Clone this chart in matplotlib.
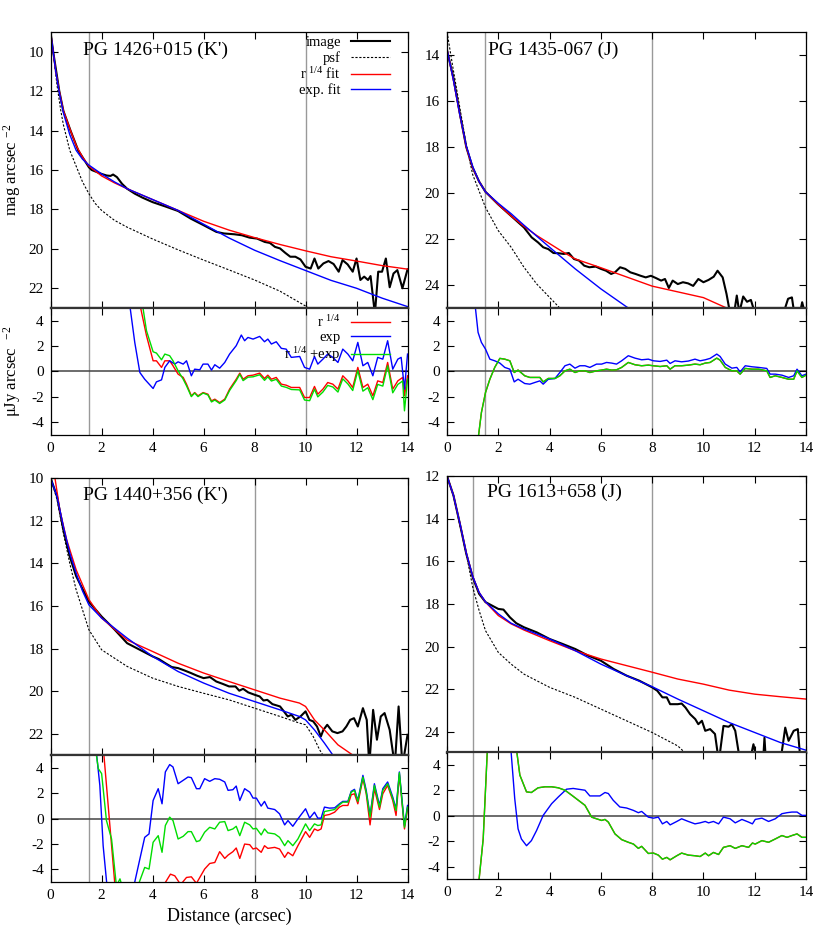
import matplotlib
matplotlib.use('Agg')
import matplotlib.pyplot as plt

plt.rcParams['font.family'] = ['Liberation Serif', 'DejaVu Serif']
plt.rcParams['mathtext.fontset'] = 'custom'
plt.rcParams['mathtext.rm'] = 'Liberation Serif'
plt.rcParams['mathtext.it'] = 'Liberation Serif:italic'
plt.rcParams['mathtext.default'] = 'rm'
plt.rcParams['axes.unicode_minus'] = False

# ---------------- PG 1426+015 (K') ----------------
tl_img_r = [0, 0.1, 0.34, 0.5, 0.78, 1.08, 1.5, 1.61, 2.0, 2.2, 2.35, 2.45, 2.6, 2.8, 3.0, 3.3, 3.6, 4.0, 4.5, 5.0,
            5.5, 6.0, 6.5, 6.8, 7.2, 7.5, 7.8, 8.1, 8.4, 8.6, 8.8, 9.0, 9.2, 9.4, 9.6, 9.8, 10.0, 10.2, 10.35, 10.5,
            10.7, 10.9, 11.1, 11.3, 11.45, 11.65, 11.85, 12.0, 12.15, 12.3, 12.45, 12.55, 12.72, 12.85, 13.0, 13.15,
            13.3, 13.45, 13.6, 13.8, 14.0]
tl_img_m = [9.05, 10.0, 12.0, 13.0, 14.0, 15.0, 15.86, 16.0, 16.2, 16.28, 16.3, 16.23, 16.36, 16.7, 16.95, 17.2, 17.4,
            17.63, 17.85, 18.08, 18.47, 18.8, 19.14, 19.22, 19.26, 19.31, 19.43, 19.48, 19.65, 19.7, 19.9, 19.98,
            20.2, 20.4, 20.4, 20.54, 20.91, 21.0, 20.49, 21.0, 20.74, 20.62, 20.77, 21.16, 20.57, 20.79, 21.16, 20.49,
            21.58, 21.41, 21.58, 21.38, 23.3, 21.16, 21.16, 20.49, 21.95, 21.25, 21.08, 22.0, 21.04]
tl_psf_r = [0, 0.1, 0.25, 0.4, 0.5, 0.75, 1.0, 1.25, 1.5, 1.75, 2.0, 2.5, 3.0, 4.0, 5.0, 6.0, 7.0, 8.0, 9.0, 10.0, 10.2]
tl_psf_m = [9.0, 10.0, 11.7, 13.0, 13.7, 15.0, 15.8, 16.6, 17.2, 17.7, 18.05, 18.55, 18.9, 19.5, 20.05, 20.57,
            21.07, 21.58, 22.15, 22.9, 23.1]
tl_r14_r = [0, 0.1, 0.2, 0.34, 0.5, 0.78, 1.0, 1.25, 1.5, 2.0, 2.5, 3.0, 4.0, 5.0, 6.0, 7.0, 8.0, 9.0, 10.0, 11.0,
            12.0, 13.0, 14.0]
tl_r14_m = [9.0, 10.0, 11.0, 12.0, 13.0, 14.0, 14.75, 15.35, 15.8, 16.3, 16.65, 16.95, 17.5, 18.05, 18.6, 19.05,
            19.43, 19.78, 20.1, 20.4, 20.62, 20.85, 21.03]
tl_exp_r = [0, 0.1, 0.2, 0.33, 0.5, 0.75, 1.0, 1.25, 1.5, 2.0, 2.5, 3.0, 4.0, 5.0, 6.0, 7.0, 8.0, 9.0, 10.0, 11.0,
            12.0, 13.0, 14.0]
tl_exp_m = [9.0, 10.0, 11.0, 12.0, 13.1, 14.2, 15.0, 15.45, 15.75, 16.2, 16.6, 16.95, 17.5, 18.05, 18.75, 19.45,
            20.07, 20.6, 21.1, 21.6, 22.0, 22.5, 22.93]

tl_res_r = [3.76, 4.02, 4.15, 4.35, 4.48, 4.67, 4.8, 5.0, 5.2, 5.33, 5.52, 5.65, 5.78, 5.98, 6.17, 6.31, 6.44, 6.63,
            6.83, 7.02, 7.28, 7.42, 7.55, 7.74, 7.94, 8.2, 8.39, 8.52, 8.66, 8.85, 9.05, 9.24, 9.44, 9.77, 9.96,
            10.16, 10.35, 10.48, 10.68, 10.87, 11.07, 11.27, 11.46, 11.66, 11.85, 12.05, 12.25, 12.44, 12.64, 12.83,
            13.03, 13.22, 13.42, 13.62, 13.81, 13.88, 14.0]
tl_res_r14 = [2.82, 0.84, 0.84, 0.32, 0.84, 0.84, 0.45, -0.21, -0.47, -1.0, -1.92, -1.66, -1.92, -1.66, -1.79,
              -2.32, -2.18, -2.45, -2.18, -1.39, -0.61, -0.13, -0.61, -0.34, -0.29, -0.13, -0.55, -0.29, -0.61,
              -0.47, -1.0, -1.08, -1.26, -1.26, -2.05, -2.05, -1.18, -1.79, -1.39, -0.87, -1.0, -1.39, -0.34, -0.74,
              -1.26, 0.32, -1.26, -1.0, -1.92, -0.74, -0.87, 0.71, -1.39, -0.74, -0.47, -1.92, -0.34]
tl_res_sum = [3.21, 1.55, 1.45, 0.92, 1.37, 1.24, 0.84, 0.05, -0.61, -1.13, -1.98, -1.7, -1.98, -1.7, -1.85, -2.4,
              -2.25, -2.52, -2.25, -1.5, -0.72, -0.22, -0.72, -0.45, -0.42, -0.26, -0.7, -0.42, -0.75, -0.62, -1.15,
              -1.25, -1.42, -1.45, -2.25, -2.3, -1.4, -2.0, -1.62, -1.1, -1.22, -1.62, -0.58, -0.98, -1.5, 0.08,
              -1.55, -1.28, -2.22, -1.02, -1.15, 0.45, -1.68, -1.02, -0.75, -3.1, -0.6]
tl_resexp_r = [3.1, 3.3, 3.5, 3.69, 4.02, 4.15, 4.35, 4.48, 4.67, 4.87, 5.0, 5.2, 5.33, 5.52, 5.65, 5.85, 5.98, 6.17,
               6.31, 6.44, 6.63, 6.83, 7.02, 7.28, 7.48, 7.61, 7.74, 7.94, 8.2, 8.39, 8.52, 8.66, 8.85, 9.05, 9.24,
               9.44, 9.77, 9.96, 10.16, 10.35, 10.48, 10.68, 10.87, 11.07, 11.27, 11.46, 11.66, 11.85, 12.05, 12.25,
               12.44, 12.64, 12.83, 13.03, 13.22, 13.42, 13.62, 13.75, 13.88, 14.0]
tl_res_exp = [5.3, 2.29, -0.08, -0.61, -1.34, -0.82, -0.66, 0.32, 0.84, 0.58, 0.76, 0.58, 0.84, -0.34, 0.18, 0.13,
              0.58, 0.58, 0.11, 0.53, 0.26, 0.71, 1.37, 2.03, 2.87, 2.42, 2.68, 2.55, 2.76, 2.34, 2.55, 2.16, 2.34,
              1.82, 1.76, 1.11, 1.18, 0.32, 0.18, 1.18, 0.58, 0.97, 1.37, 1.11, 0.71, 1.76, 1.37, 0.84, 2.29, 0.45,
              0.71, -0.34, 1.11, 0.97, 2.42, 0.18, 0.97, 1.11, -1.39, 1.37]

# ---------------- PG 1435-067 (J) ----------------
tr_img_r = [0, 0.25, 0.5, 0.75, 1.0, 1.25, 1.5, 2.0, 2.5, 3.0, 3.3, 3.55, 3.75, 3.95, 4.15, 4.35, 4.55, 4.75, 4.95,
            5.15, 5.35, 5.55, 5.8, 6.0, 6.2, 6.4, 6.55, 6.75, 6.95, 7.15, 7.35, 7.55, 7.75, 7.95, 8.15, 8.35, 8.5,
            8.65, 8.8, 9.0, 9.2, 9.4, 9.6, 9.8, 10.0, 10.2, 10.4, 10.55, 10.75, 10.9, 11.05, 11.2, 11.3, 11.4, 11.55,
            11.7, 11.85, 12.0, 12.3, 12.7, 13.1, 13.3, 13.45, 13.55, 13.75, 13.85, 13.95]
tr_img_m = [13.8, 15.0, 16.55, 18.0, 18.9, 19.5, 19.95, 20.5, 21.0, 21.5, 21.93, 22.15, 22.36, 22.44, 22.61, 22.62,
            22.65, 22.61, 22.87, 22.94, 23.16, 23.23, 23.2, 23.3, 23.38, 23.52, 23.45, 23.23, 23.3, 23.45, 23.52,
            23.6, 23.67, 23.6, 23.7, 23.81, 23.74, 24.13, 23.81, 23.96, 23.88, 23.93, 24.04, 23.74, 23.88, 23.78,
            23.64, 23.38, 23.67, 24.39, 25.3, 25.2, 24.46, 25.2, 24.5, 24.73, 24.65, 25.2, 25.3, 25.3, 25.3, 24.6,
            24.54, 25.3, 25.3, 24.75, 25.2]
tr_psf_r = [0, 0.23, 0.5, 0.75, 1.0, 1.5, 2.0, 2.5, 3.0, 3.5, 4.0, 4.43, 4.6]
tr_psf_m = [13.0, 14.55, 16.3, 17.9, 19.2, 20.63, 21.64, 22.36, 23.23, 23.96, 24.54, 25.04, 25.3]
tr_r14_r = [0, 0.25, 0.5, 0.75, 1.0, 1.25, 1.5, 2.0, 2.5, 3.0, 3.5, 4.0, 4.5, 5.0, 6.0, 7.0, 8.0, 9.0, 10.0, 11.0,
            11.2]
tr_r14_m = [13.75, 15.1, 16.6, 18.0, 18.9, 19.5, 19.95, 20.5, 21.0, 21.45, 21.85, 22.2, 22.55, 22.87, 23.25, 23.65,
            24.05, 24.3, 24.55, 25.05, 25.15]
tr_exp_r = [0, 0.25, 0.5, 0.75, 1.0, 1.25, 1.5, 2.0, 2.5, 3.0, 3.5, 4.0, 4.5, 5.0, 6.0, 7.0, 7.5]
tr_exp_m = [13.75, 15.1, 16.6, 17.95, 18.85, 19.5, 19.95, 20.45, 20.9, 21.4, 21.88, 22.36, 22.83, 23.3, 24.17,
            24.95, 25.3]

tr_res_r = [1.86, 2.06, 2.25, 2.45, 2.62, 2.77, 3.03, 3.23, 3.42, 3.62, 3.75, 3.95, 4.21, 4.4, 4.6, 4.79, 4.99,
            5.18, 5.38, 5.57, 5.83, 6.03, 6.22, 6.42, 6.61, 6.81, 7.07, 7.33, 7.59, 7.85, 8.05, 8.31, 8.57, 8.7,
            8.89, 9.15, 9.41, 9.67, 9.87, 10.07, 10.26, 10.52, 10.65, 10.85, 11.11, 11.3, 11.43, 11.63, 11.89,
            12.15, 12.47, 12.6, 12.8, 13.06, 13.32, 13.52, 13.65, 13.84, 14.0]
tr_res_exp = [0.84, 0.66, 0.32, 0.18, -0.82, -0.61, -0.95, -1.0, -0.87, -0.74, -1.0, -0.61, -0.55, -0.08, 0.45,
              0.58, 0.26, 0.45, 0.45, 0.32, 0.58, 0.58, 0.71, 0.66, 0.58, 0.84, 1.24, 1.05, 0.92, 0.97, 0.84, 0.79,
              0.89, 0.63, 0.84, 0.76, 0.82, 0.97, 0.84, 0.92, 1.03, 1.37, 1.18, 0.58, 0.26, 0.32, -0.03, 0.45,
              0.37, 0.32, 0.24, -0.21, -0.21, -0.29, -0.47, -0.34, 0.18, -0.34, -0.21]
tr_res_sum = [0.32, 1.03, 0.97, 0.84, -0.08, 0.11, -0.34, -0.47, -0.47, -0.47, -0.82, -0.55, -0.55, -0.34, 0.05,
              0.18, -0.08, 0.05, 0.05, -0.08, 0.05, 0.11, 0.18, 0.11, 0.13, 0.32, 0.71, 0.53, 0.45, 0.5, 0.45,
              0.39, 0.45, 0.18, 0.45, 0.45, 0.5, 0.58, 0.53, 0.66, 0.71, 1.05, 0.89, 0.32, 0.05, 0.05, -0.21, 0.24,
              0.18, 0.18, 0.05, -0.47, -0.34, -0.47, -0.61, -0.61, 0.05, -0.47, -0.29]
# inner part of the residuals, where they leave the panel
tr_in_r = [1.08, 1.21, 1.34, 1.5, 1.67]
tr_in_exp = [5.5, 3.08, 2.29, 1.76, 0.97]
tr_in_sum_r = [1.2, 1.34, 1.5, 1.67]
tr_in_sum = [-5.5, -3.24, -1.66, -0.61]

# ---------------- PG 1440+356 (K') ----------------
bl_img_r = [0, 0.25, 0.5, 0.75, 1.0, 1.5, 2.0, 2.5, 3.0, 3.5, 4.0, 4.25, 4.5, 4.75, 5.0, 5.25, 5.5, 5.75, 6.0, 6.25,
            6.5, 6.75, 7.0, 7.25, 7.4, 7.55, 7.75, 8.0, 8.2, 8.35, 8.5, 8.7, 9.0, 9.15, 9.3, 9.45, 9.6, 9.8, 10.0,
            10.15, 10.3, 10.45, 10.6, 10.7, 10.85, 11.05, 11.25, 11.45, 11.6, 11.75, 11.9, 12.05, 12.25, 12.4, 12.5,
            12.65, 12.8, 12.95, 13.1, 13.3, 13.5, 13.65, 13.8, 14.0]
bl_img_m = [10.0, 10.86, 12.43, 13.68, 14.6, 15.8, 16.5, 17.1, 17.75, 18.06, 18.37, 18.5, 18.69, 18.87, 18.92, 19.03,
            19.15, 19.28, 19.39, 19.34, 19.55, 19.66, 19.78, 19.78, 19.98, 19.89, 20.06, 20.17, 20.25, 20.44, 20.41,
            20.61, 20.72, 20.95, 21.19, 21.11, 21.35, 21.19, 20.95, 21.35, 21.42, 21.66, 22.13, 21.82, 21.58, 21.89,
            21.97, 21.89, 21.66, 21.35, 21.27, 21.66, 20.8, 21.35, 23.5, 20.88, 22.28, 21.19, 21.03, 21.82, 23.5,
            20.72, 23.5, 22.05]
bl_psf_r = [0, 0.25, 0.5, 0.75, 1.0, 1.5, 2.0, 3.0, 4.0, 5.0, 6.0, 7.0, 8.0, 9.0, 9.76, 10.0, 10.3, 10.55, 10.68,
            10.8]
bl_psf_m = [10.0, 11.0, 12.58, 14.0, 15.24, 17.12, 18.06, 18.84, 19.39, 19.78, 20.1, 20.41, 20.8, 21.19, 21.5,
            21.58, 22.13, 22.75, 23.0, 23.3]
bl_r14_r = [0.05, 0.17, 0.36, 0.63, 1.0, 1.5, 2.0, 3.0, 4.0, 5.0, 6.0, 7.0, 8.0, 9.0, 9.76, 10.0, 10.35, 10.8,
            11.27, 11.85, 12.2]
bl_r14_m = [9.0, 10.0, 11.5, 12.9, 14.3, 15.7, 16.57, 17.6, 18.14, 18.69, 19.15, 19.55, 19.94, 20.33, 20.56, 20.72,
            21.35, 21.9, 22.52, 23.0, 23.3]
bl_exp_r = [0, 0.25, 0.5, 0.75, 1.0, 1.25, 1.5, 2.0, 3.0, 4.0, 5.0, 6.0, 7.0, 8.0, 9.0, 9.76, 10.0, 10.35, 10.74,
            11.07, 11.3]
bl_exp_m = [10.0, 10.86, 12.27, 13.52, 14.46, 15.3, 15.95, 16.57, 17.51, 18.37, 19.08, 19.62, 20.1, 20.49, 20.88,
            21.19, 21.35, 21.82, 22.44, 23.0, 23.4]

bl_res_r = [6.04, 6.24, 6.44, 6.63, 6.83, 6.96, 7.15, 7.28, 7.42, 7.61, 7.81, 7.94, 8.07, 8.26, 8.39, 8.52, 8.79,
            8.98, 9.18, 9.31, 9.5, 9.7, 10.0, 10.16, 10.35, 10.48, 10.61, 10.74, 10.94, 11.14, 11.33, 11.46, 11.66,
            11.79, 11.92, 12.05, 12.25, 12.38, 12.53, 12.7, 12.9, 13.03, 13.22, 13.42, 13.55, 13.68, 13.88, 14.0]
bl_res_exp = [3.14, 2.93, 3.14, 3.09, 2.88, 2.22, 2.27, 2.56, 1.42, 2.35, 2.08, 1.61, 1.61, 0.98, 1.35, 0.82, 0.71,
              0.37, -0.5, -0.16, -0.61, -0.03, 0.77, 0.03, 0.5, 0.03, 0.03, 0.9, 0.82, 0.84, 1.16, 1.35, 1.35, 2.14,
              2.3, 1.42, 3.4, 2.22, 0.24, 2.74, 1.03, 2.35, 2.88, 1.69, 0.77, 3.67, -0.55, 1.03]
bl_res_sum = [-1.08, -0.69, -0.82, -0.29, -0.24, -0.95, -0.82, -0.61, -1.35, -0.29, -0.5, -0.82, -0.77, -1.29,
              -0.82, -1.13, -1.21, -1.48, -2.14, -1.74, -2.14, -1.61, -0.42, -0.95, -0.42, -0.55, -0.5, 0.55, 0.63,
              0.71, 1.08, 1.29, 1.29, 2.08, 2.22, 1.35, 3.27, 2.08, 0.11, 2.61, 0.9, 2.22, 2.74, 1.56, 0.63, 3.61,
              -0.69, 0.9]
bl_res_r14 = [-3.98, -3.54, -3.46, -2.61, -3.14, -2.88, -2.61, -2.32, -3.14, -2.01, -2.06, -2.4, -2.32, -2.66,
              -2.14, -2.35, -2.27, -2.4, -3.06, -2.66, -2.93, -2.14, -1.03, -1.48, -0.82, -0.95, -0.82, 0.24, 0.32,
              0.5, 0.9, 1.03, 1.03, 1.87, 1.95, 1.16, 3.14, 1.95, -0.5, 2.35, 0.71, 1.95, 2.61, 1.42, 0.24, 3.46,
              -0.82, 0.77]
bl_in_exp_r = [1.78, 1.93, 2.06, 2.22, 2.6, 3.2, 3.3, 3.5, 3.69, 3.86, 4.02, 4.22, 4.37, 4.5, 4.67, 4.8, 5.0, 5.2,
               5.39, 5.52, 5.72, 5.85, 6.04]
bl_in_exp = [5.5, 2.61, -2.14, -5.5, -6.5, -6.0, -5.0, -3.19, -1.48, -1.21, 1.42, 2.35, 1.16, 3.67, 4.25, 4.06,
             2.74, 3.01, 3.27, 3.22, 2.35, 2.35, 3.14]
bl_in_sum_r = [1.76, 1.87, 2.0, 2.19, 2.39, 2.58, 2.72, 2.8, 3.2, 3.48, 3.69, 3.86, 4.02, 4.22, 4.37, 4.5, 4.67,
               4.8, 5.0, 5.2, 5.39, 5.52, 5.72, 5.85, 6.04]
bl_in_sum = [5.5, 3.93, 3.54, -0.16, -1.61, -5.3, -4.75, -5.3, -6.0, -5.0, -3.85, -3.98, -1.87, -1.35, -2.66,
             -0.55, 0.11, -0.16, -1.61, -1.4, -1.03, -1.03, -1.82, -1.74, -1.08]
bl_in_r14_r = [2.07, 2.09, 2.52, 3.5, 4.45, 4.7, 4.87, 5.1, 5.33, 5.52, 5.72, 6.04]
bl_in_r14 = [5.5, 5.0, -5.2, -8.0, -5.2, -4.38, -4.51, -5.2, -4.64, -4.59, -5.1, -3.98]

# ---------------- PG 1613+658 (J) ----------------
br_img_r = [0, 0.25, 0.5, 0.75, 1.0, 1.25, 1.5, 1.75, 2.0, 2.2, 2.45, 2.7, 3.0, 3.5, 4.0, 4.5, 5.0, 5.5, 6.0, 6.5,
            7.0, 7.5, 8.0, 8.2, 8.4, 8.57, 8.7, 9.0, 9.15, 9.3, 9.48, 9.68, 9.8, 9.94, 10.07, 10.26, 10.45, 10.6,
            10.78, 10.98, 11.11, 11.24, 11.43, 11.82, 11.95, 12.08, 12.33, 12.38, 12.43, 13.0, 13.19, 13.32, 13.52,
            13.68, 13.78, 14.0]
br_img_m = [12.0, 12.9, 14.23, 15.64, 16.74, 17.52, 17.91, 18.07, 18.23, 18.26, 18.62, 18.9, 19.09, 19.33, 19.64,
            19.87, 20.11, 20.42, 20.66, 21.05, 21.36, 21.6, 21.91, 22.07, 22.38, 22.38, 22.7, 22.7, 22.67, 22.86,
            23.17, 23.4, 23.64, 23.48, 23.95, 23.87, 24.1, 25.4, 23.72, 23.76, 23.64, 23.95, 25.4, 25.3, 24.58, 25.3,
            25.3, 24.27, 25.3, 25.4, 23.8, 24.42, 23.95, 23.87, 25.3, 25.5]
br_psf_r = [0, 0.25, 0.5, 0.75, 1.0, 1.25, 1.5, 2.0, 2.5, 3.0, 4.0, 5.0, 6.0, 7.0, 8.0, 9.0, 9.3, 9.5]
br_psf_m = [12.0, 12.9, 14.3, 15.64, 17.2, 18.3, 19.25, 20.27, 20.82, 21.29, 21.91, 22.38, 22.93, 23.48, 24.03,
            24.66, 25.0, 25.2]
br_r14_r = [0, 0.25, 0.5, 0.75, 1.0, 1.25, 1.5, 2.0, 2.5, 3.0, 4.0, 5.0, 6.0, 7.0, 8.0, 9.0, 10.0, 11.0, 12.0,
            13.0, 14.0]
br_r14_m = [12.0, 12.9, 14.2, 15.6, 16.7, 17.45, 17.91, 18.54, 18.93, 19.22, 19.72, 20.19, 20.58, 20.89, 21.2,
            21.52, 21.76, 22.04, 22.23, 22.35, 22.46]
br_exp_r = [0, 0.25, 0.5, 0.75, 1.0, 1.25, 1.5, 2.0, 2.5, 3.0, 4.0, 5.0, 6.0, 7.0, 8.0, 9.0, 10.0, 11.0, 12.0,
            13.0, 14.0]
br_exp_m = [12.0, 12.9, 14.2, 15.6, 16.7, 17.45, 17.9, 18.46, 18.9, 19.17, 19.64, 20.19, 20.82, 21.36, 21.88,
            22.46, 23.01, 23.56, 24.03, 24.5, 24.86]

br_res_r = [3.1, 3.29, 3.55, 3.82, 4.08, 4.34, 4.6, 4.86, 5.12, 5.38, 5.64, 5.83, 6.03, 6.16, 6.29, 6.55, 6.81,
            7.07, 7.27, 7.46, 7.59, 7.85, 8.05, 8.24, 8.4, 8.57, 8.7, 8.96, 9.15, 9.41, 9.67, 9.87, 10.07, 10.2,
            10.39, 10.59, 10.78, 11.04, 11.24, 11.5, 11.76, 11.91, 12.02, 12.28, 12.54, 12.8, 13.06, 13.26, 13.45,
            13.65, 13.84, 14.0]
br_res_sum = [1.88, 1.83, 2.2, 2.28, 2.28, 2.2, 2.01, 1.62, 1.22, 0.82, -0.11, -0.24, -0.37, -0.29, -0.5, -1.43,
              -1.88, -2.09, -2.23, -2.57, -2.41, -2.97, -2.94, -3.1, -3.42, -3.28, -3.47, -3.15, -2.94, -3.1, -3.15,
              -3.21, -2.94, -3.15, -2.89, -3.05, -2.49, -2.36, -2.57, -2.36, -2.49, -2.15, -2.23, -1.96, -2.09,
              -1.83, -1.56, -1.7, -1.56, -1.43, -1.7, -1.7]
br_res_r14 = br_res_sum  # r^1/4 and r^1/4+exp residuals lie on top of each other
br_in_sum_r = [1.22, 1.25, 1.41, 1.58, 2.0, 2.6, 2.69, 2.84, 3.1]
br_in_sum = [-5.5, -5.0, -1.83, 5.5, 7.0, 6.0, 5.5, 3.2, 1.88]
br_resexp_r = [2.48, 2.64, 2.77, 2.9, 3.1, 3.29, 3.49, 3.75, 4.08, 4.34, 4.66, 4.92, 5.18, 5.38, 5.57, 5.83, 5.96,
               6.16, 6.29, 6.48, 6.74, 7.0, 7.27, 7.46, 7.59, 7.85, 8.05, 8.24, 8.4, 8.57, 8.7, 8.96, 9.15, 9.41,
               9.67, 9.87, 10.07, 10.2, 10.39, 10.59, 10.78, 11.04, 11.24, 11.5, 11.76, 11.91, 12.02, 12.28, 12.54,
               12.8, 13.06, 13.26, 13.45, 13.65, 13.84, 14.0]
br_res_exp = [5.5, 1.35, -1.03, -1.83, -2.36, -1.96, -1.17, 0.03, 0.95, 1.48, 2.09, 2.15, 2.07, 2.01, 1.56, 1.56,
              1.56, 1.83, 1.75, 1.22, 0.69, 0.61, 0.42, 0.24, 0.34, -0.11, -0.19, -0.11, -0.64, -0.45, -0.72, -0.45,
              -0.24, -0.45, -0.64, -0.56, -0.45, -0.56, -0.45, -0.64, -0.11, -0.24, -0.56, -0.29, -0.5, -0.64,
              -0.29, -0.19, -0.45, -0.24, 0.16, 0.24, 0.29, 0.29, 0.03, 0.03]

RED = '#ff0000'
BLUE = '#0000ff'
GREEN = '#00dd00'


def style_axis(ax, ylim, yticks):
    ax.set_xlim(0, 14)
    ax.set_ylim(*ylim)
    ax.set_xticks(range(0, 15, 2))
    ax.set_yticks(yticks)
    ax.tick_params(direction='in', top=True, right=True, length=5, width=0.8, labelsize=11, pad=5)
    for s in ax.spines.values():
        s.set_linewidth(0.9)


def profile_panel(ax, name, name_pos, vlines, ylim, yticks, img, psf, r14, exp):
    style_axis(ax, ylim, yticks)
    ax.tick_params(labelbottom=False)
    ax.spines['bottom'].set_linewidth(1.6)
    ax.spines['bottom'].set_color('#333333')
    for v in vlines:
        ax.axvline(v, color='#999999', lw=1.0, zorder=0)
    ax.plot(img[0], img[1], color='black', lw=1.5, label='image')
    ax.plot(psf[0], psf[1], color='black', lw=0.8, dashes=(2, 1.5), label='psf')
    ax.plot(r14[0], r14[1], color=RED, lw=1.0, label='r $^{1/4}$ fit')
    ax.plot(exp[0], exp[1], color=BLUE, lw=1.0, label='exp. fit')
    ax.text(name_pos[0], name_pos[1], name, transform=ax.transAxes, fontsize=14, ha='left', va='center')


def resid_panel(ax, vlines, r14, exp, both):
    style_axis(ax, (-5, 5), [-4, -2, 0, 2, 4])
    ax.spines['top'].set_linewidth(1.6)
    ax.spines['top'].set_color('#333333')
    for v in vlines:
        ax.axvline(v, color='#999999', lw=1.0, zorder=0)
    ax.axhline(0, color='#444444', lw=1.1, zorder=1)
    ax.plot(r14[0], r14[1], color=RED, lw=1.0, label='r $^{1/4}$')
    ax.plot(exp[0], exp[1], color=BLUE, lw=1.0, label='exp')
    ax.plot(both[0], both[1], color=GREEN, lw=1.0, label='r $^{1/4}$ +exp')


fig = plt.figure(figsize=(8.3, 9.31), dpi=100)

colx = [0.061, 0.5386]
colw = [0.430, 0.4325]
ax_tl = fig.add_axes([colx[0], 0.6692, colw[0], 0.2964])
ax_tlr = fig.add_axes([colx[0], 0.5328, colw[0], 0.1364])
ax_tr = fig.add_axes([colx[1], 0.6692, colw[1], 0.2964])
ax_trr = fig.add_axes([colx[1], 0.5328, colw[1], 0.1364])
ax_bl = fig.add_axes([colx[0], 0.189, colw[0], 0.2975])
ax_blr = fig.add_axes([colx[0], 0.0526, colw[0], 0.1364])
ax_br = fig.add_axes([colx[1], 0.191, colw[1], 0.2975])
ax_brr = fig.add_axes([colx[1], 0.0556, colw[1], 0.1364])

# PG 1426+015
profile_panel(ax_tl, "PG 1426+015 (K')", (0.09, 0.934), [1.5, 10], (23, 9), range(10, 23, 2),
              (tl_img_r, tl_img_m), (tl_psf_r, tl_psf_m), (tl_r14_r, tl_r14_m), (tl_exp_r, tl_exp_m))
resid_panel(ax_tlr, [1.5, 10], ([3.5] + tl_res_r, [5.3] + tl_res_r14), (tl_resexp_r, tl_res_exp),
            ([3.6] + tl_res_r, [5.3] + tl_res_sum))
ax_tl.set_ylabel('mag arcsec $^{-2}$', fontsize=12)
ax_tlr.set_ylabel('\u03bcJy arcsec  $^{-2}$', fontsize=12)
ax_tl.yaxis.set_label_coords(-0.078, 0.5)
ax_tlr.yaxis.set_label_coords(-0.078, 0.5)
ax_tl.legend(loc='upper right', bbox_to_anchor=(0.952, 0.985), markerfirst=False, frameon=False, fontsize=10.5,
             handlelength=2.7, handletextpad=0.7, labelspacing=0.1, borderpad=0, borderaxespad=0)
ax_tlr.legend(loc='upper right', bbox_to_anchor=(0.952, 0.95), markerfirst=False, frameon=False, fontsize=10.5,
              handlelength=2.7, handletextpad=0.7, labelspacing=0.05, borderpad=0, borderaxespad=0)

# PG 1435-067
profile_panel(ax_tr, "PG 1435-067 (J)", (0.115, 0.934), [1.5, 8], (25, 13), range(14, 25, 2),
              (tr_img_r, tr_img_m), (tr_psf_r, tr_psf_m), (tr_r14_r, tr_r14_m), (tr_exp_r, tr_exp_m))
resid_panel(ax_trr, [1.5, 8], (tr_in_sum_r + tr_res_r, tr_in_sum + tr_res_sum),
            (tr_in_r + tr_res_r, tr_in_exp + tr_res_exp), (tr_in_sum_r + tr_res_r, tr_in_sum + tr_res_sum))

# PG 1440+356
profile_panel(ax_bl, "PG 1440+356 (K')", (0.09, 0.939), [1.5, 8], (23, 10), range(10, 23, 2),
              (bl_img_r, bl_img_m), (bl_psf_r, bl_psf_m), (bl_r14_r, bl_r14_m), (bl_exp_r, bl_exp_m))
resid_panel(ax_blr, [1.5, 8], (bl_in_r14_r + bl_res_r[1:], bl_in_r14 + bl_res_r14[1:]),
            (bl_in_exp_r + bl_res_r[1:], bl_in_exp + bl_res_exp[1:]),
            (bl_in_sum_r + bl_res_r[1:], bl_in_sum + bl_res_sum[1:]))
ax_blr.set_xlabel('Distance (arcsec)', fontsize=13)

# PG 1613+658
profile_panel(ax_br, "PG 1613+658 (J)", (0.11, 0.943), [1.0, 8], (25, 12), range(12, 25, 2),
              (br_img_r, br_img_m), (br_psf_r, br_psf_m), (br_r14_r, br_r14_m), (br_exp_r, br_exp_m))
resid_panel(ax_brr, [1.0, 8], (br_in_sum_r + br_res_r[1:], br_in_sum + br_res_r14[1:]),
            (br_resexp_r, br_res_exp), (br_in_sum_r + br_res_r[1:], br_in_sum + br_res_sum[1:]))

fig.savefig('out.png', dpi=100)
